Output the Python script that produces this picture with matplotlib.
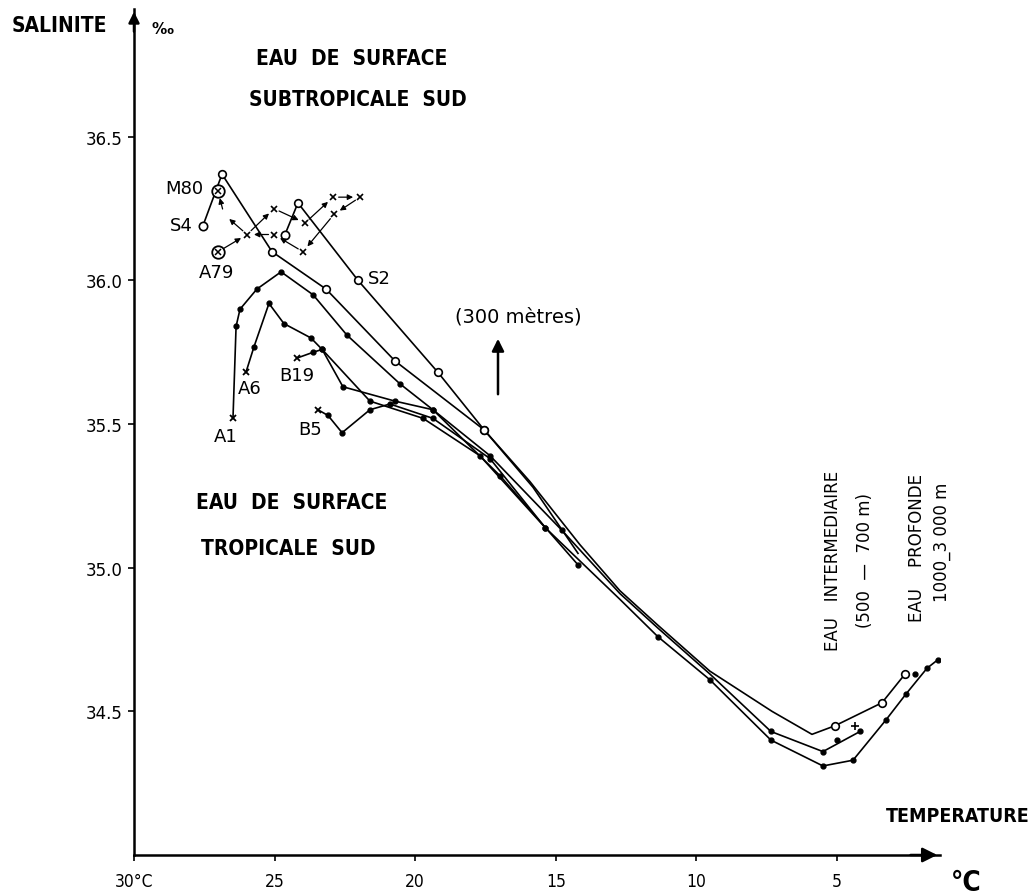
import matplotlib
matplotlib.use("Agg")
import matplotlib.pyplot as plt
from matplotlib import font_manager

# temperature (deg C) and salinity (per mil)
s4_t = [27.55, 26.87, 25.09, 23.17, 20.72, 17.55, 15.81, 14.21]
s4_s = [36.19, 36.37, 36.10, 35.97, 35.72, 35.48, 35.28, 35.05]

s2_t = [24.63, 24.17, 22.03, 19.19, 17.55, 15.92, 14.14, 12.72, 11.37, 9.52, 7.31, 5.89, 5.07, 3.40, 2.58]
s2_s = [36.16, 36.27, 36.00, 35.68, 35.48, 35.30, 35.08, 34.92, 34.80, 34.64, 34.50, 34.42, 34.45, 34.53, 34.63]

a1_t = [26.48, 26.37, 26.23, 25.63, 24.77, 23.63, 22.43, 20.54, 19.37, 17.34, 14.78, 12.72, 11.37, 9.52, 7.35, 5.50, 4.18]
a1_s = [35.52, 35.84, 35.90, 35.97, 36.03, 35.95, 35.81, 35.64, 35.55, 35.39, 35.13, 34.91, 34.79, 34.63, 34.43, 34.36, 34.43]

a6_t = [26.02, 25.73, 25.20, 24.67, 23.71, 23.31, 21.61, 19.72, 17.70, 15.38, 12.72, 11.37, 9.52, 7.35, 5.50, 4.43, 3.26, 2.55, 1.80, 1.41]
a6_s = [35.68, 35.77, 35.92, 35.85, 35.80, 35.76, 35.58, 35.52, 35.39, 35.14, 34.89, 34.76, 34.61, 34.40, 34.31, 34.33, 34.47, 34.56, 34.65, 34.68]

b19_t = [24.20, 23.63, 23.31, 22.57, 20.72, 19.37, 16.98, 14.21]
b19_s = [35.73, 35.75, 35.76, 35.63, 35.58, 35.55, 35.32, 35.01]

b5_t = [23.46, 23.10, 22.60, 21.61, 20.90, 19.37, 17.34, 15.38]
b5_s = [35.55, 35.53, 35.47, 35.55, 35.57, 35.52, 35.38, 35.14]

# loose deep points
extra_t = [5.00, 2.23]
extra_s = [34.40, 34.63]
plus_t = [4.36]
plus_s = [34.45]

# mean stations and the arrowed path between them
m80 = (27.01, 36.31)
a79 = (27.01, 36.10)
path_t = [27.01, 25.98, 25.02, 23.92, 22.92, 21.96, 22.89, 23.99, 25.02, 25.98, 26.80, 27.01]
path_s = [36.10, 36.16, 36.25, 36.20, 36.29, 36.29, 36.23, 36.10, 36.16, 36.16, 36.23, 36.31]

x_ticks = [30, 25, 20, 15, 10, 5]
x_labels = ["30°C", "25", "20", "15", "10", "5"]
y_ticks = [34.5, 35.0, 35.5, 36.0, 36.5]
y_labels = ["34.5", "35.0", "35.5", "36.0", "36.5"]

# a condensed bold face if one is installed, otherwise smaller normal bold
has_cond = any(f.stretch in ("condensed", "semi-condensed", 75, 87.5) or "Condensed" in f.name
               or "Narrow" in f.name for f in font_manager.fontManager.ttflist)
if has_cond:
    head = dict(family="DejaVu Sans", fontstretch="condensed", fontweight="bold", fontsize=15)
    tick_font = dict(family="DejaVu Sans", fontstretch="condensed", fontsize=12.5)
else:
    head = dict(family="DejaVu Sans", fontweight="bold", fontsize=13)
    tick_font = dict(family="DejaVu Sans", fontsize=11)

W, H = 1035, 895
fig = plt.figure(figsize=(W / 100, H / 100), dpi=100)
ax = fig.add_axes([134 / W, 1 - 856 / H, (940 - 134) / W, (856 - 10) / H])
ax.set_xlim(30, 1.337)
ax.set_ylim(34.0, 36.945)

for sp in ["top", "right"]:
    ax.spines[sp].set_visible(False)
for sp in ["left", "bottom"]:
    ax.spines[sp].set_linewidth(1.8)

ax.set_xticks(x_ticks)
ax.set_xticklabels(x_labels, **tick_font)
ax.set_yticks(y_ticks)
ax.set_yticklabels(y_labels, fontsize=12)
ax.tick_params(axis="both", direction="out", length=4, width=1.2)
ax.tick_params(axis="x", pad=8)
ax.tick_params(axis="y", pad=4)

# axis arrows
ax.annotate("", xy=(1, 0), xytext=(0.96, 0), xycoords="axes fraction",
            arrowprops=dict(arrowstyle="-|>", color="k", lw=1.8, mutation_scale=22))
ax.annotate("", xy=(0, 1), xytext=(0, 0.97), xycoords="axes fraction",
            arrowprops=dict(arrowstyle="-|>", color="k", lw=1.8, mutation_scale=16))


def station(t, s, first, rest, marked=None):
    ax.plot(t, s, color="k", lw=1.2, zorder=2)
    if first == "x":
        ax.plot(t[:1], s[:1], "kx", ms=5, mew=1.3, zorder=3)
    else:
        ax.plot(t[:1], s[:1], "o", ms=6, mfc="white", mec="k", mew=1.2, zorder=3)
    idx = marked if marked is not None else range(1, len(t))
    mt = [t[i] for i in idx]
    ms_ = [s[i] for i in idx]
    if rest == "o":
        ax.plot(mt, ms_, "o", ms=5.5, mfc="white", mec="k", mew=1.2, zorder=3)
    else:
        ax.plot(mt, ms_, "o", ms=3.5, color="k", zorder=3)


station(s4_t, s4_s, "o", "o", marked=[1, 2, 3, 4, 5])
station(s2_t, s2_s, "o", "o", marked=[1, 2, 3, 4, 12, 13, 14])
station(a1_t, a1_s, "x", ".", marked=[1, 2, 3, 4, 5, 6, 7, 8, 9, 10, 14, 15, 16])
station(a6_t, a6_s, "x", ".", marked=[1, 2, 3, 4, 5, 6, 7, 8, 9, 11, 12, 13, 14, 15, 16, 17, 18, 19])
station(b19_t, b19_s, "x", ".")
station(b5_t, b5_s, "x", ".")
ax.plot(extra_t, extra_s, "o", ms=3.5, color="k")
ax.plot(plus_t, plus_s, "k+", ms=6, mew=1.2)

# arrowed path
for i in range(len(path_t) - 1):
    ax.annotate("", xy=(path_t[i + 1], path_s[i + 1]), xytext=(path_t[i], path_s[i]),
                arrowprops=dict(arrowstyle="-|>", color="k", lw=0.9,
                                mutation_scale=8, shrinkA=4, shrinkB=5))
ax.plot(path_t[1:-3], path_s[1:-3], "kx", ms=4.5, mew=1.2, zorder=4)
for p in (m80, a79):
    ax.plot(*p, "o", ms=9, mfc="white", mec="k", mew=1.3, zorder=5)
    ax.plot(*p, "x", ms=5, mec="k", mew=1.1, zorder=6)

lab = dict(fontsize=13, textcoords="offset pixels", va="center")
ax.annotate("M80", xy=m80, xytext=(-34, 3), ha="center", **lab)
ax.annotate("A79", xy=a79, xytext=(-2, -20), ha="center", **lab)
ax.annotate("S4", xy=(s4_t[0], s4_s[0]), xytext=(-22, 1), ha="center", **lab)
ax.annotate("S2", xy=(s2_t[2], s2_s[2]), xytext=(10, 2), ha="left", **lab)
ax.annotate("A1", xy=(a1_t[0], a1_s[0]), xytext=(-7, -18), ha="center", **lab)
ax.annotate("A6", xy=(a6_t[0], a6_s[0]), xytext=(4, -16), ha="center", **lab)
ax.annotate("B19", xy=(b19_t[0], b19_s[0]), xytext=(0, -17), ha="center", **lab)
ax.annotate("B5", xy=(b5_t[0], b5_s[0]), xytext=(-8, -19), ha="center", **lab)


def ftext(x, y, s, **kw):
    fig.text(x / W, 1 - y / H, s, ha="center", va="center", **kw)


ftext(59, 26, "SALINITE", **head)
ftext(163, 30, "‰", fontsize=11, fontweight="bold")
ftext(352, 59, "EAU  DE  SURFACE", **head)
ftext(358, 100, "SUBTROPICALE  SUD", **head)
ftext(292, 503, "EAU  DE  SURFACE", **head)
ftext(288, 549, "TROPICALE  SUD", **head)
fig.text(1030 / W, 1 - 817 / H, "TEMPERATURE", ha="right", va="center", **dict(head, fontsize=14))
ftext(966, 883, "°C", **dict(head, fontsize=20))

ftext(518, 317, "(300 mètres)", fontsize=14)
ax.annotate("", xy=(498 / W, 1 - 337 / H), xytext=(498 / W, 1 - 398 / H),
            xycoords="figure fraction",
            arrowprops=dict(arrowstyle="-|>", color="k", lw=1.8, mutation_scale=18))

rot = dict(rotation=90, fontsize=12)
ftext(833, 561, "EAU   INTERMEDIAIRE", **rot)
ftext(865, 560, "(500  —  700 m)", **rot)
ftext(917, 548, "EAU    PROFONDE", **rot)
ftext(942, 542, "1000_3 000 m", **rot)

fig.savefig("out.png", dpi=100)
